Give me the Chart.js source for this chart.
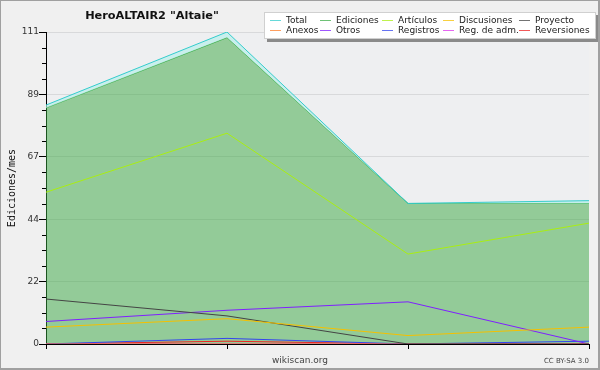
<!DOCTYPE html>
<html lang="es">
<head>
<meta charset="UTF-8">
<title>HeroALTAIR2 "Altaie"</title>
<script src="https://cdn.jsdelivr.net/npm/chart.js"></script>
<style>
  body { margin: 0; background: #fff; }
  #wrap { position: relative; width: 600px; height: 370px; background: #f0f0f0; font-family: "DejaVu Sans", sans-serif; overflow: hidden; }
  #frame { position: absolute; left: 0; top: 0; width: 600px; height: 370px; box-sizing: border-box; border: solid #a0a0a0; border-width: 1px 2px 2px 1px; pointer-events: none; }
  canvas { position: absolute; left: 0; top: 0; }
  #title { position: absolute; left: 0; width: 304px; top: 9px; text-align: center; font-weight: bold; font-size: 11.3px; color: #111; }
  #legend { position: absolute; left: 264px; top: 12px; width: 330px; height: 25px; background: #fff; border: 1px solid #d0d0d0; box-shadow: 3px 3px 0 #8a8a8a; }
  .item { position: absolute; font-size: 9px; line-height: 10px; color: #222; white-space: nowrap; }
  .item i { display: inline-block; width: 11px; height: 1px; vertical-align: middle; margin-right: 5px; opacity: 0.75; }
  #foot { position: absolute; left: 250px; width: 100px; text-align: center; top: 355px; font-size: 9px; color: #444; }
  #cc { position: absolute; right: 11px; top: 357px; font-size: 7px; color: #444; }
</style>
</head>
<body>
<div id="wrap">
  <canvas id="chart" width="600" height="370"></canvas>
  <div id="title">HeroALTAIR2 "Altaie"</div>
  <div id="legend"></div>
  <div id="foot">wikiscan.org</div>
  <div id="cc">CC BY-SA 3.0</div>
  <div id="frame"></div>
</div>
<script>
// datos
const periodos = ["P1", "P2", "P3", "P4"];
const nombres = ["Total", "Ediciones", "Artículos", "Discusiones", "Proyecto",
                 "Anexos", "Otros", "Registros", "Reg. de adm.", "Reversiones"];
const total       = [85, 111, 50, 51];
const ediciones   = [84, 109, 50, 50];
const articulos   = [54, 75, 32, 43];
const discusiones = [6, 9, 3, 6];
const proyecto    = [16, 10, 0, 0];
const anexos      = [0, 0, 0, 0];
const otros       = [8, 12, 15, 0];
const registros   = [0, 2, 0, 1];
const regAdm      = [0, 0, 0, 0];
const reversiones = [0, 1, 0, 0];
const yTickLabels = ["0", "22", "44", "67", "89", "111"];
const yMax = 111;

const series = [total, ediciones, articulos, discusiones, proyecto,
                anexos, otros, registros, regAdm, reversiones];
const colores = ["#33cccc", "#3dae48", "#aaee11", "#f5c000", "#444444",
                 "#ff7f2a", "#7f1fff", "#3344ee", "#dd33ee", "#ee2222"];

// leyenda en html
const colX = [5, 55, 117, 178, 254];
const legend = document.getElementById("legend");
nombres.forEach((n, i) => {
  const d = document.createElement("div");
  d.className = "item";
  d.style.left = colX[i % 5] + "px";
  d.style.top = (i < 5 ? 2 : 12) + "px";
  d.innerHTML = '<i style="background:' + colores[i] + '"></i>' + n;
  legend.appendChild(d);
});

const datasets = series.map((s, i) => ({
  label: nombres[i],
  data: s,
  borderColor: colores[i],
  borderWidth: 1,
  pointRadius: 0,
  tension: 0,
  fill: false,
  order: i === 1 ? 1 : 0,
}));
datasets[0].fill = { target: 1 };
datasets[0].backgroundColor = "rgba(185,240,235,0.7)";
datasets[1].fill = "origin";
datasets[1].backgroundColor = "rgba(56,167,63,0.5)";

const fondo = {
  id: "fondo",
  beforeDraw(chart) {
    const a = chart.chartArea, c = chart.ctx;
    c.save();
    c.fillStyle = "#eeeff1";
    c.fillRect(a.left, a.top, a.right - a.left, a.bottom - a.top);
    c.restore();
  },
  afterDraw(chart) {
    // marcas menores del eje y
    const y = chart.scales.y, c = chart.ctx;
    c.save();
    c.strokeStyle = "#000";
    c.lineWidth = 1;
    y.ticks.forEach((t, i) => {
      if (i % 4 === 0) return;
      const p = Math.round(y.getPixelForValue(t.value)) + 0.5;
      c.beginPath();
      c.moveTo(y.right - 4, p);
      c.lineTo(y.right, p);
      c.stroke();
    });
    c.restore();
  }
};

new Chart(document.getElementById("chart"), {
  type: "line",
  data: { labels: periodos, datasets: datasets },
  plugins: [fondo],
  options: {
    responsive: false,
    animation: false,
    layout: { padding: { left: 0, top: 32, right: 11, bottom: 0 } },
    plugins: { legend: { display: false }, tooltip: { enabled: false } },
    scales: {
      x: {
        offset: false,
        border: { color: "#000", width: 1 },
        grid: { drawOnChartArea: false, tickLength: 5, tickColor: "#000" },
        ticks: { callback: () => "", padding: 0 },
        afterFit: s => { s.height = 26; }
      },
      y: {
        min: 0,
        max: yMax,
        border: { color: "#000", width: 1 },
        afterBuildTicks: s => {
          s.ticks = [];
          for (let i = 0; i <= 20; i++) s.ticks.push({ value: i * yMax / 20 });
        },
        grid: {
          tickLength: 7,
          color: c => (c.index % 4 === 0 && c.index > 0) ? "rgba(0,0,0,0.09)" : "transparent",
          tickColor: c => c.index % 4 === 0 ? "#000" : "transparent"
        },
        ticks: {
          autoSkip: false,
          padding: 0,
          color: "#333",
          font: { family: "DejaVu Sans", size: 9 },
          callback: (v, i) => i % 4 === 0 ? yTickLabels[i / 4] : ""
        },
        title: {
          display: true,
          text: "Ediciones/mes",
          color: "#111",
          font: { family: "DejaVu Sans Mono", size: 10 },
          padding: { top: 6, bottom: 0 }
        },
        afterFit: s => { s.width = 46; }
      }
    }
  }
});
</script>
</body>
</html>
